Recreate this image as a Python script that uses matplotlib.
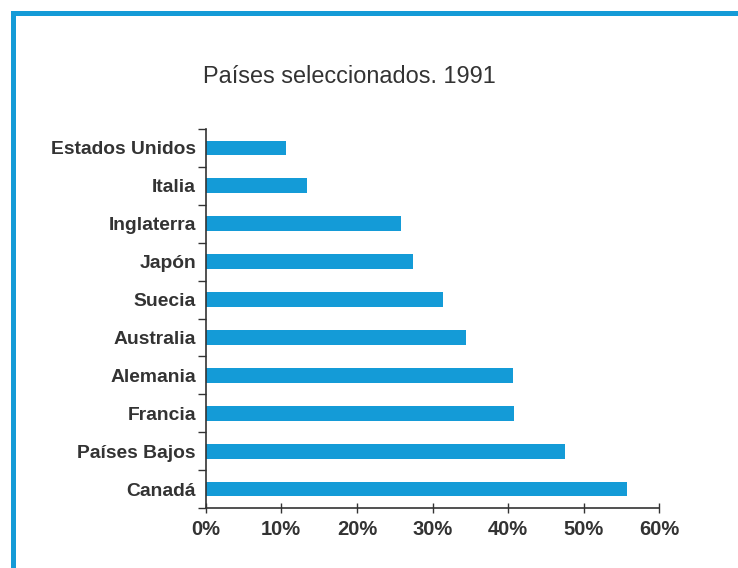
import matplotlib
matplotlib.use('Agg')
import matplotlib.pyplot as plt
from matplotlib.patches import Rectangle
import numpy as np

# data (percent)
countries = ['Estados Unidos', 'Italia', 'Inglaterra', 'Japón', 'Suecia',
             'Australia', 'Alemania', 'Francia', 'Países Bajos', 'Canadá']
values = [10.6, 13.4, 25.8, 27.4, 31.4, 34.4, 40.7, 40.8, 47.5, 55.7]
xticks = [0, 10, 20, 30, 40, 50, 60]
xtick_labels = ['0%', '10%', '20%', '30%', '40%', '50%', '60%']

blue = '#149bd7'
text_col = '#333333'

plt.rcParams['font.family'] = ['Liberation Sans', 'DejaVu Sans']

fig = plt.figure(figsize=(7.38, 5.68), dpi=100)
ax = fig.add_axes([0.2787, 0.1056, 0.6147, 0.6673])

y = np.arange(len(countries))
ax.barh(y, values, height=0.39, color=blue)

ax.set_xlim(0, 60)
ax.set_ylim(9.5, -0.5)

ax.set_yticks(y)
ax.set_yticklabels(countries, fontsize=13.9, fontweight='bold', color=text_col)
ax.set_yticks(np.arange(-0.5, 10, 1), minor=True)
ax.tick_params(axis='y', which='major', length=0, pad=7)
ax.tick_params(axis='y', which='minor', length=6, width=1, color=text_col)

ax.set_xticks(xticks)
ax.set_xticklabels(xtick_labels, fontsize=14.5, fontweight='bold', color=text_col)
ax.tick_params(axis='x', direction='inout', length=7, width=1, color=text_col, pad=5)

for s in ['top', 'right']:
    ax.spines[s].set_visible(False)
for s in ['left', 'bottom']:
    ax.spines[s].set_color(text_col)
    ax.spines[s].set_linewidth(1.2)

# title
fig.text(0.474, 0.866, 'Países seleccionados. 1991', fontsize=16.9,
         color=text_col, ha='center', va='center')

# blue frame around the figure
fig.add_artist(Rectangle((13 / 738, -0.1), 2, 1.1 - 13.5 / 568,
                         transform=fig.transFigure, fill=False,
                         edgecolor=blue, linewidth=3.6))

fig.savefig('out.png', dpi=100)
